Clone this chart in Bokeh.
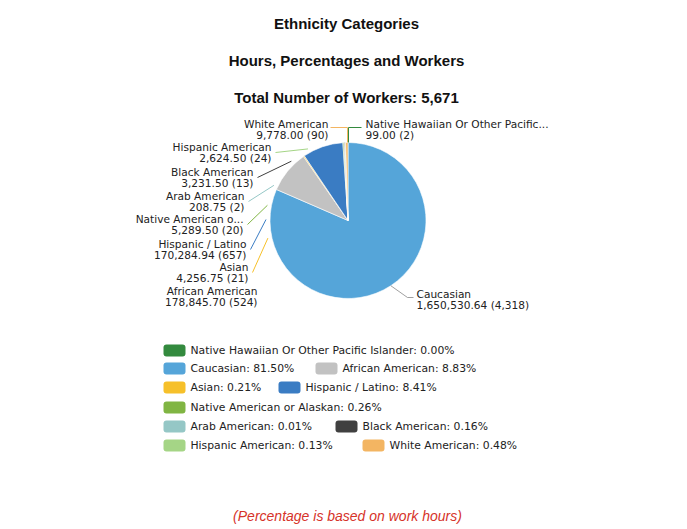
import math
from bokeh.plotting import figure
from bokeh.models import ColumnDataSource
from bokeh.core.properties import value
from bokeh.embed import file_html
from bokeh.resources import INLINE

# ---------------- data ----------------
categories = ["Native Hawaiian Or Other Pacific Islander", "Caucasian", "African American",
              "Asian", "Hispanic / Latino", "Native American or Alaskan", "Arab American",
              "Black American", "Hispanic American", "White American"]
short_names = ["Native Hawaiian Or Other Pacific...", "Caucasian", "African American",
               "Asian", "Hispanic / Latino", "Native American o...", "Arab American",
               "Black American", "Hispanic American", "White American"]
hours = [99.00, 1650530.64, 178845.70, 4256.75, 170284.94, 5289.50, 208.75, 3231.50, 2624.50, 9778.00]
workers = [2, 4318, 524, 21, 657, 20, 2, 13, 24, 90]
colors = ["#338A3E", "#55A5D9", "#C2C2C2", "#F6C02A", "#3A7CC3", "#80B543",
          "#95C7C6", "#404040", "#A5D586", "#F3B562"]

title_lines = ["Ethnicity Categories", "Hours, Percentages and Workers"]
footer = "(Percentage is based on work hours)"

# ---------------- layout ----------------
W, H = 687, 529
def fx(ix):
    return ix
def fy(iy):
    return H - iy

CX, CY, R = 347.5, 220.0, 78.0  # image coordinates of pie centre, radius

# pie label layout: side, anchor x, first line y, leader angle (deg clockwise from top)
label_layout = {
    "Native Hawaiian Or Other Pacific Islander": ("right", 365, 123, None),
    "Caucasian": ("right", 416, 293, None),
    "African American": ("left", 257, 290, None),
    "Asian": ("left", 248, 266, 257.6),
    "Hispanic / Latino": ("left", 246, 243, 270.7),
    "Native American or Alaskan": ("left", 243, 218, 280.7),
    "Arab American": ("left", 244, 195, 295.4),
    "Black American": ("left", 253, 171, 316.3),
    "Hispanic American": ("left", 271, 146, 330.8),
    "White American": ("left", 328, 123, None),
}

# legend layout: (row, swatch left x) in image coordinates
legend_rows_y = [350, 368, 387, 407, 426, 445]
legend_layout = {
    "Native Hawaiian Or Other Pacific Islander": (0, 163),
    "Caucasian": (1, 163),
    "African American": (1, 315),
    "Asian": (2, 163),
    "Hispanic / Latino": (2, 278),
    "Native American or Alaskan": (3, 163),
    "Arab American": (4, 163),
    "Black American": (4, 335),
    "Hispanic American": (5, 163),
    "White American": (5, 362),
}

FONT = value("DejaVu Sans")
TFONT = value("Liberation Sans")

p = figure(width=W, height=H, x_range=(0, W), y_range=(0, H),
           x_axis_type=None, y_axis_type=None, toolbar_location=None,
           output_backend="svg", min_border=0)
p.grid.visible = False
p.outline_line_color = None
p.background_fill_color = "white"
p.border_fill_color = "white"

# ---------------- titles ----------------
total_hours = sum(hours)
total_workers = sum(workers)
titles = title_lines + [f"Total Number of Workers: {total_workers:,}"]
p.text(x=[fx(346)] * 3, y=[fy(23), fy(60), fy(97)], text=titles,
       text_font=TFONT, text_font_style="bold", text_font_size="15px",
       text_align="center", text_baseline="middle", text_color="#111111")

# ---------------- pie ----------------
starts, ends, cum = [], [], 0.0
for h in hours:
    a0 = cum / total_hours
    cum += h
    a1 = cum / total_hours
    starts.append(math.pi / 2 - a0 * 2 * math.pi)
    ends.append(math.pi / 2 - a1 * 2 * math.pi)
mids_deg = [((math.pi / 2 - s) + (math.pi / 2 - e)) / 2 * 180 / math.pi for s, e in zip(starts, ends)]

src = ColumnDataSource(dict(start=starts, end=ends, color=colors))
p.wedge(x=fx(CX), y=fy(CY), radius=R, start_angle="start", end_angle="end",
        direction="clock", fill_color="color", line_color="white", line_width=0.6, source=src)

def edge_point(deg, r):
    t = math.radians(deg)
    return CX + r * math.sin(t), CY - r * math.cos(t)

# ---------------- pie labels + leaders ----------------
for name, short, h, w, col, mid in zip(categories, short_names, hours, workers, colors, mids_deg):
    side, ax, ay, ang = label_layout[name]
    l1 = short
    l2 = f"{h:,.2f} ({w:,})"
    align = "left" if side == "right" else "right"
    p.text(x=[fx(ax), fx(ax)], y=[fy(ay), fy(ay + 11)], text=[l1, l2],
           text_font=FONT, text_font_size="10.6px", text_align=align,
           text_baseline="middle", text_color="#222222")
    if ang is not None:
        ex, ey = edge_point(ang, R + 4)
        p.line([fx(ax + 4), fx(ex)], [fy(ay + 6), fy(ey)], line_color=col, line_width=1)

# top leaders (White American, Native Hawaiian)
tx, ty = edge_point(0, R)
wa = label_layout["White American"]
p.line([fx(wa[1] + 2), fx(tx - 0.5), fx(tx - 0.5)], [fy(wa[2] + 4), fy(wa[2] + 4), fy(ty)],
       line_color=colors[9], line_width=1)
nh = label_layout["Native Hawaiian Or Other Pacific Islander"]
p.line([fx(nh[1] - 4), fx(tx + 0.5), fx(tx + 0.5)], [fy(nh[2] + 4), fy(nh[2] + 4), fy(ty)],
       line_color=colors[0], line_width=1)
# Caucasian leader
cs = label_layout["Caucasian"]
ex, ey = edge_point(mids_deg[1], R)
p.line([fx(ex), fx(cs[1] - 9), fx(cs[1] - 3)], [fy(ey), fy(cs[2] + 4), fy(cs[2] + 4)],
       line_color="#888888", line_width=0.8)

# ---------------- legend ----------------
sw_x, sw_y, sw_c, tx_x, tx_y, tx_t = [], [], [], [], [], []
for name, h, col in zip(categories, hours, colors):
    row, x0 = legend_layout[name]
    y0 = legend_rows_y[row]
    sw_x.append(fx(x0 + 11))
    sw_y.append(fy(y0))
    sw_c.append(col)
    tx_x.append(fx(x0 + 27))
    tx_y.append(fy(y0))
    tx_t.append(f"{name}: {h / total_hours * 100:.2f}%")
p.rect(x=sw_x, y=sw_y, width=22, height=12, fill_color=sw_c, line_color=None,
       border_radius=3)
p.text(x=tx_x, y=tx_y, text=tx_t, text_font=FONT, text_font_size="10.8px",
       text_align="left", text_baseline="middle", text_color="#222222")

# ---------------- footer ----------------
p.text(x=[fx(347)], y=[fy(515)], text=[footer], text_font=TFONT,
       text_font_style="italic", text_font_size="14px", text_align="center",
       text_baseline="middle", text_color="#D6332A")

open("out.html", "w").write(file_html(p, INLINE))
